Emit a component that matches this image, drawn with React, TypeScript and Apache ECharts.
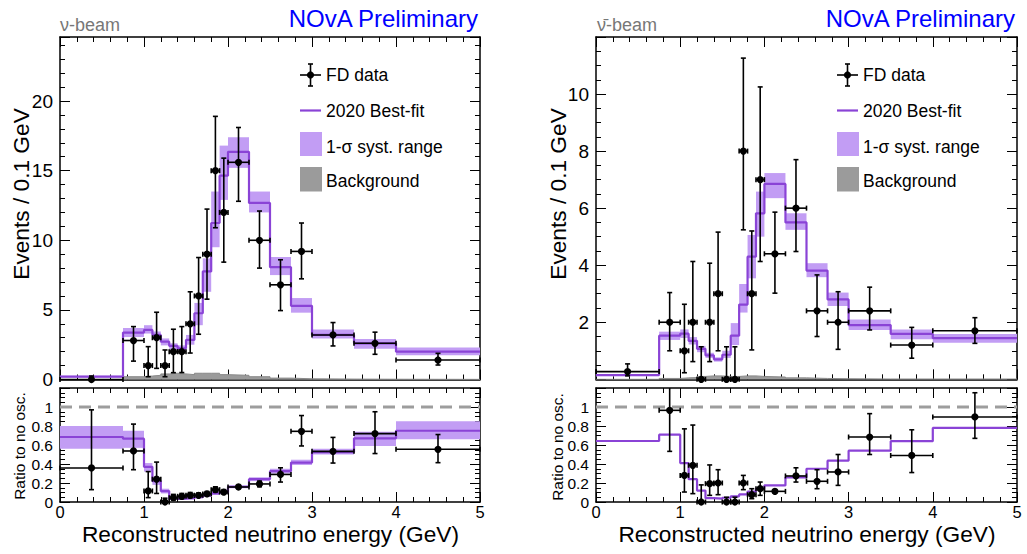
import React, { useEffect, useRef } from "react";
import * as echarts from "echarts";

// ---------- data ----------
const binEdges = [0, 0.75, 1.0, 1.1, 1.2, 1.3, 1.4, 1.5, 1.6, 1.7, 1.8, 1.9, 2.0, 2.25, 2.5, 2.75, 3.0, 3.5, 4.0, 5.0];
const xTicks = ["0", "1", "2", "3", "4", "5"];

// neutrino beam, events / 0.1 GeV
const nuMC = [0.2, 3.37, 3.56, 3.2, 2.72, 2.41, 2.24, 2.84, 4.76, 7.76, 11.24, 14.64, 16.35, 12.68, 8.07, 5.29, 3.2, 2.6, 2.0];
const nuBandLo = [0.15, 3.05, 3.3, 2.9, 2.45, 2.15, 2.05, 2.5, 3.9, 6.3, 9.5, 12.9, 15.2, 12.0, 7.5, 4.8, 2.95, 2.2, 1.75];
const nuBandHi = [0.27, 3.7, 3.9, 3.45, 2.95, 2.6, 2.45, 3.2, 5.5, 8.7, 13.5, 16.8, 17.4, 13.5, 8.8, 5.85, 3.6, 2.9, 2.3];
const nuBkg = [0, 0.2, 0.25, 0.3, 0.4, 0.45, 0.4, 0.35, 0.45, 0.45, 0.45, 0.35, 0.3, 0.2, 0.1, 0.05, 0.03, 0.02, 0.01];
const nuData = [0, 2.8, 1, 3, 1, 2, 2, 4, 6, 9, 15, 12, 15.6, 10, 6.8, 9.2, 3.2, 2.6, 1.4];
const nuDataLo = [0, 1.32, 0.2, 0.8, 0.2, 0.49, 0.5, 1.9, 3.25, 5.77, 10.9, 8.43, 12.8, 8.0, 4.95, 7.23, 2.41, 1.81, 1.04];
const nuDataHi = [0.25, 3.8, 2.36, 4.83, 2.12, 3.61, 3.8, 6.3, 8.76, 12.24, 18.9, 15.9, 18.1, 12.1, 8.6, 11.24, 4.09, 3.4, 1.88];

// neutrino beam, ratio to no oscillation
const nuRatioMC = [0.684, 0.667, 0.37, 0.22, 0.115, 0.035, 0.035, 0.04, 0.05, 0.07, 0.09, 0.1, 0.16, 0.24, 0.325, 0.415, 0.526, 0.67, 0.75];
const nuRatioBandLo = [0.56, 0.57, 0.32, 0.18, 0.09, 0.025, 0.025, 0.03, 0.04, 0.055, 0.075, 0.085, 0.145, 0.22, 0.3, 0.39, 0.5, 0.59, 0.66];
const nuRatioBandHi = [0.8, 0.75, 0.41, 0.25, 0.14, 0.05, 0.05, 0.055, 0.065, 0.085, 0.11, 0.12, 0.175, 0.26, 0.35, 0.445, 0.56, 0.74, 0.85];
const nuRatioData = [0.358, 0.537, 0.116, 0.24, 0.0, 0.046, 0.06, 0.07, 0.07, 0.085, 0.13, 0.105, 0.158, 0.19, 0.29, 0.744, 0.533, 0.72, 0.555];
const nuRatioLo = [0.13, 0.34, 0.046, 0.09, 0, 0.02, 0.035, 0.045, 0.05, 0.065, 0.105, 0.085, 0.14, 0.16, 0.21, 0.59, 0.41, 0.51, 0.414];
const nuRatioHi = [0.97, 0.82, 0.32, 0.42, 0.04, 0.08, 0.09, 0.1, 0.095, 0.11, 0.16, 0.13, 0.175, 0.22, 0.36, 0.91, 0.68, 0.95, 0.71];

// antineutrino beam, events / 0.1 GeV
const anuMC = [0.15, 1.53, 1.6, 1.35, 1.07, 0.84, 0.7, 0.86, 1.53, 2.62, 4.3, 5.82, 6.85, 5.5, 3.81, 2.8, 1.9, 1.59, 1.44];
const anuBandLo = [0.1, 1.38, 1.45, 1.22, 0.95, 0.75, 0.62, 0.75, 1.2, 2.34, 3.54, 5.0, 6.35, 5.24, 3.58, 2.57, 1.73, 1.4, 1.28];
const anuBandHi = [0.19, 1.67, 1.75, 1.48, 1.17, 0.93, 0.77, 1.0, 1.97, 3.34, 5.06, 6.58, 7.23, 5.82, 4.07, 3.04, 2.1, 1.75, 1.59];
const anuBkg = [0, 0.03, 0.05, 0.06, 0.1, 0.12, 0.12, 0.1, 0.1, 0.12, 0.12, 0.1, 0.08, 0.05, 0.03, 0.02, 0.01, 0.01, 0.01];
const anuData = [0.27, 2, 1, 2, 0, 2, 3, 0, 0, 8, 3, 7, 4.4, 6, 2.4, 2, 2.4, 1.2, 1.7];
const anuDataLo = [0.12, 1.0, 0.23, 0.62, 0, 0.62, 1.0, 0, 0, 5.24, 1.03, 4.13, 3.02, 4.48, 1.5, 1.05, 1.73, 0.74, 1.26];
const anuDataHi = [0.54, 3.04, 2.63, 4.13, 1.14, 4.07, 5.16, 1.14, 1.14, 11.26, 5.2, 10.25, 5.86, 7.7, 3.66, 3.07, 3.23, 1.82, 2.16];

// antineutrino beam, ratio to no oscillation
const anuRatioMC = [0.642, 0.709, 0.41, 0.24, 0.12, 0.04, 0.035, 0.045, 0.06, 0.08, 0.11, 0.14, 0.175, 0.26, 0.35, 0.435, 0.54, 0.64, 0.78];
const anuRatioData = [null, 0.965, 0.28, 0.386, 0, 0.193, 0.2, 0, 0, 0.2, 0.077, 0.14, 0.112, 0.274, 0.218, 0.316, 0.684, 0.49, 0.895];
const anuRatioLo = [null, 0.533, 0.105, 0.088, 0, 0.07, 0.077, 0, 0, 0.13, 0.035, 0.07, 0.095, 0.21, 0.14, 0.175, 0.5, 0.31, 0.67];
const anuRatioHi = [null, 1.2, 0.77, 0.81, 0.18, 0.39, 0.34, 0.05, 0.05, 0.28, 0.14, 0.21, 0.13, 0.36, 0.34, 0.5, 0.93, 0.76, 1.15];

// ---------- styling ----------
const FONT = "'Liberation Sans', Arial, Helvetica, sans-serif";
const PURPLE = "#8a43d6";
const BAND = "#c29df4";
const GRAY = "#9b9b9b";

const stepPoints = (vals: number[]) => {
  const pts: number[][] = [];
  vals.forEach((v, i) => {
    pts.push([binEdges[i], v]);
    pts.push([binEdges[i + 1], v]);
  });
  return pts;
};

const bandData = (lo: number[], hi: number[]) =>
  lo.map((l, i) => [binEdges[i], binEdges[i + 1], l, hi[i]]);

const errData = (vals: (number | null)[], lo: (number | null)[], hi: (number | null)[]) => {
  const out: number[][] = [];
  vals.forEach((v, i) => {
    if (v === null || v === undefined) return;
    out.push([(binEdges[i] + binEdges[i + 1]) / 2, v, binEdges[i], binEdges[i + 1], lo[i] as number, hi[i] as number]);
  });
  return out;
};

const bandRender = (params: any, api: any) => {
  const a = api.coord([api.value(0), api.value(3)]);
  const b = api.coord([api.value(1), api.value(2)]);
  return {
    type: "rect",
    shape: { x: a[0], y: a[1], width: b[0] - a[0], height: b[1] - a[1] },
    style: { fill: BAND },
  };
};

const makeErrRender = (yMax: number) => (params: any, api: any) => {
  const x = api.value(0), y = api.value(1), xl = api.value(2), xh = api.value(3), yl = api.value(4), yh = api.value(5);
  const p = api.coord([x, y]);
  const pl = api.coord([xl, y]);
  const ph = api.coord([xh, y]);
  const pyl = api.coord([x, yl]);
  const pyh = api.coord([x, yh]);
  const st = { stroke: "#000", lineWidth: 1.6 };
  const cap = 2.5;
  const children: any[] = [
    { type: "line", shape: { x1: pl[0], y1: p[1], x2: ph[0], y2: p[1] }, style: st },
    { type: "line", shape: { x1: pl[0], y1: p[1] - cap, x2: pl[0], y2: p[1] + cap }, style: st },
    { type: "line", shape: { x1: ph[0], y1: p[1] - cap, x2: ph[0], y2: p[1] + cap }, style: st },
    { type: "line", shape: { x1: p[0], y1: pyl[1], x2: p[0], y2: pyh[1] }, style: st },
  ];
  if (yh < yMax) children.push({ type: "line", shape: { x1: p[0] - cap, y1: pyh[1], x2: p[0] + cap, y2: pyh[1] }, style: st });
  if (yl < y) children.push({ type: "line", shape: { x1: p[0] - cap, y1: pyl[1], x2: p[0] + cap, y2: pyl[1] }, style: st });
  children.push({ type: "circle", shape: { cx: p[0], cy: p[1], r: 3.6 }, style: { fill: "#000" } });
  return { type: "group", children };
};

const grids = [
  { left: 60, top: 37, width: 420, height: 342.5 },
  { left: 60, top: 388, width: 420, height: 114 },
  { left: 596, top: 37, width: 421, height: 342.3 },
  { left: 596, top: 388, width: 421, height: 114 },
];

const axisLineStyle = { show: true, onZero: false, lineStyle: { color: "#000", width: 1.5 } };

const makeX = (gridIndex: number, showLabels: boolean, position: string) => ({
  type: "value",
  gridIndex,
  position,
  min: 0,
  max: 5,
  interval: 1,
  axisLine: axisLineStyle,
  axisTick: { show: true, inside: true, length: 10, lineStyle: { color: "#000", width: 1 } },
  minorTick: { show: true, splitNumber: 5, length: 5, lineStyle: { color: "#000", width: 1 } },
  splitLine: { show: false },
  minorSplitLine: { show: false },
  axisLabel: {
    show: showLabels,
    margin: 1,
    fontSize: 16.5,
    fontFamily: FONT,
    color: "#000",
    formatter: (v: number) => xTicks[Math.round(v)] ?? "",
  },
});

const makeY = (gridIndex: number, max: number, interval: number, minorSplit: number, position: string, showLabels: boolean, fontSize: number, fmt: (v: number) => string) => ({
  type: "value",
  gridIndex,
  position,
  min: 0,
  max,
  interval,
  axisLine: axisLineStyle,
  axisTick: { show: true, inside: true, length: 10, lineStyle: { color: "#000", width: 1 } },
  minorTick: { show: true, splitNumber: minorSplit, length: 5, lineStyle: { color: "#000", width: 1 } },
  splitLine: { show: false },
  minorSplitLine: { show: false },
  axisLabel: { show: showLabels, margin: 7, fontSize, fontFamily: FONT, color: "#000", formatter: fmt },
});

const fmtLeftTop = (v: number) => (Math.abs(v % 5) < 1e-6 ? String(Math.round(v)) : "");
const fmtRightTop = (v: number) => (v < 0.5 || v > 11.5 ? "" : String(Math.round(v)));
const fmtRatio = (v: number) => (v > 1.05 ? "" : String(Math.round(v * 10) / 10));

const seriesFor = (g: number, opts: any) => {
  const ax = { xAxisIndex: 2 * g, yAxisIndex: 2 * g };
  const s: any[] = [];
  if (opts.bkg) {
    s.push({
      type: "line", ...ax, data: stepPoints(opts.bkg), showSymbol: false, silent: true,
      lineStyle: { color: "#8a8a8a", width: 1 }, areaStyle: { color: GRAY, opacity: 1 }, z: 2,
    });
  }
  if (opts.bandLo) {
    s.push({ type: "custom", ...ax, data: bandData(opts.bandLo, opts.bandHi), renderItem: bandRender, z: 3, silent: true });
  }
  if (opts.ref1) {
    s.push({
      type: "line", ...ax, data: [[0, 1], [5, 1]], showSymbol: false, silent: true,
      lineStyle: { color: "#9d9d9d", width: 3, type: [12, 7] }, z: 3,
    });
  }
  s.push({
    type: "line", ...ax, data: stepPoints(opts.mc), showSymbol: false, silent: true,
    lineStyle: { color: PURPLE, width: 2.2 }, z: 4,
  });
  s.push({
    type: "custom", ...ax, data: errData(opts.data, opts.lo, opts.hi),
    renderItem: makeErrRender(opts.yMax), z: 5, silent: true, clip: false,
  });
  return s;
};

const legendGraphic = (x0: number) => {
  const st = { stroke: "#000", lineWidth: 1.6 };
  const tx = x0 + 26;
  const txt = (y: number, t: string) => ({
    type: "text", x: tx, y, style: { text: t, font: `17.5px ${FONT}`, fill: "#000", textAlign: "left", textVerticalAlign: "middle" },
  });
  return [
    { type: "line", shape: { x1: x0, y1: 75, x2: x0 + 21, y2: 75 }, style: st },
    { type: "line", shape: { x1: x0 + 10.5, y1: 64, x2: x0 + 10.5, y2: 86 }, style: st },
    { type: "line", shape: { x1: x0 + 8, y1: 64, x2: x0 + 13, y2: 64 }, style: st },
    { type: "line", shape: { x1: x0 + 8, y1: 86, x2: x0 + 13, y2: 86 }, style: st },
    { type: "circle", shape: { cx: x0 + 10.5, cy: 75, r: 3.6 }, style: { fill: "#000" } },
    txt(75, "FD data"),
    { type: "line", shape: { x1: x0, y1: 110.5, x2: x0 + 21, y2: 110.5 }, style: { stroke: PURPLE, lineWidth: 2.2 } },
    txt(110.5, "2020 Best-fit"),
    { type: "rect", shape: { x: x0, y: 132, width: 22, height: 24 }, style: { fill: BAND } },
    txt(146.5, "1-σ syst. range"),
    { type: "rect", shape: { x: x0, y: 167, width: 22, height: 24.5 }, style: { fill: GRAY } },
    txt(181, "Background"),
  ];
};

const textEl = (x: number, y: number, t: string, size: number, fill: string, align: string, rotation = 0) => ({
  type: "text",
  x,
  y,
  rotation,
  style: { text: t, font: `${size}px ${FONT}`, fill, textAlign: align, textVerticalAlign: "middle" },
});

export default function App() {
  const ref = useRef<HTMLDivElement>(null);
  useEffect(() => {
    if (!ref.current) return;
    const chart = echarts.init(ref.current, undefined, { renderer: "svg" });
    const option: any = {
      animation: false,
      backgroundColor: "#fff",
      grid: grids,
      xAxis: [
        makeX(0, false, "bottom"), makeX(0, false, "top"),
        makeX(1, true, "bottom"), makeX(1, false, "top"),
        makeX(2, false, "bottom"), makeX(2, false, "top"),
        makeX(3, true, "bottom"), makeX(3, false, "top"),
      ],
      yAxis: [
        makeY(0, 24.6, 5, 5, "left", true, 19, fmtLeftTop), makeY(0, 24.6, 5, 5, "right", false, 19, fmtLeftTop),
        makeY(1, 1.2, 0.2, 4, "left", true, 15.5, fmtRatio), makeY(1, 1.2, 0.2, 4, "right", false, 15.5, fmtRatio),
        makeY(2, 12, 2, 4, "left", true, 19, fmtRightTop), makeY(2, 12, 2, 4, "right", false, 19, fmtRightTop),
        makeY(3, 1.2, 0.2, 4, "left", true, 15.5, fmtRatio), makeY(3, 1.2, 0.2, 4, "right", false, 15.5, fmtRatio),
      ],
      series: [
        ...seriesFor(0, { bkg: nuBkg, bandLo: nuBandLo, bandHi: nuBandHi, mc: nuMC, data: nuData, lo: nuDataLo, hi: nuDataHi, yMax: 24.6 }),
        ...seriesFor(1, { bandLo: nuRatioBandLo, bandHi: nuRatioBandHi, ref1: true, mc: nuRatioMC, data: nuRatioData, lo: nuRatioLo, hi: nuRatioHi, yMax: 1.2 }),
        ...seriesFor(2, { bkg: anuBkg, bandLo: anuBandLo, bandHi: anuBandHi, mc: anuMC, data: anuData, lo: anuDataLo, hi: anuDataHi, yMax: 12 }),
        ...seriesFor(3, { ref1: true, mc: anuRatioMC, data: anuRatioData, lo: anuRatioLo, hi: anuRatioHi, yMax: 1.2 }),
      ],
      graphic: [
        ...legendGraphic(300),
        ...legendGraphic(837),
        textEl(478, 18, "NOvA Preliminary", 24, "#0000ff", "right"),
        textEl(1015, 18, "NOvA Preliminary", 24, "#0000ff", "right"),
        textEl(60, 25, "ν-beam", 18, "#777", "left"),
        textEl(597, 25, "ν̄-beam", 18, "#777", "left"),
        textEl(21, 194, "Events / 0.1 GeV", 22.7, "#000", "center", Math.PI / 2),
        textEl(558, 194, "Events / 0.1 GeV", 22.7, "#000", "center", Math.PI / 2),
        textEl(19, 446, "Ratio to no osc.", 15.5, "#000", "center", Math.PI / 2),
        textEl(557, 447, "Ratio to no osc.", 15.5, "#000", "center", Math.PI / 2),
        textEl(270.5, 534, "Reconstructed neutrino energy (GeV)", 22.7, "#000", "center"),
        textEl(807, 534, "Reconstructed neutrino energy (GeV)", 22.7, "#000", "center"),
      ],
    };
    chart.setOption(option);
    return () => chart.dispose();
  }, []);
  return (
    <div
      ref={ref}
      style={{ position: "absolute", left: 0, top: 0, width: 1027, height: 554, background: "#fff" }}
    />
  );
}
